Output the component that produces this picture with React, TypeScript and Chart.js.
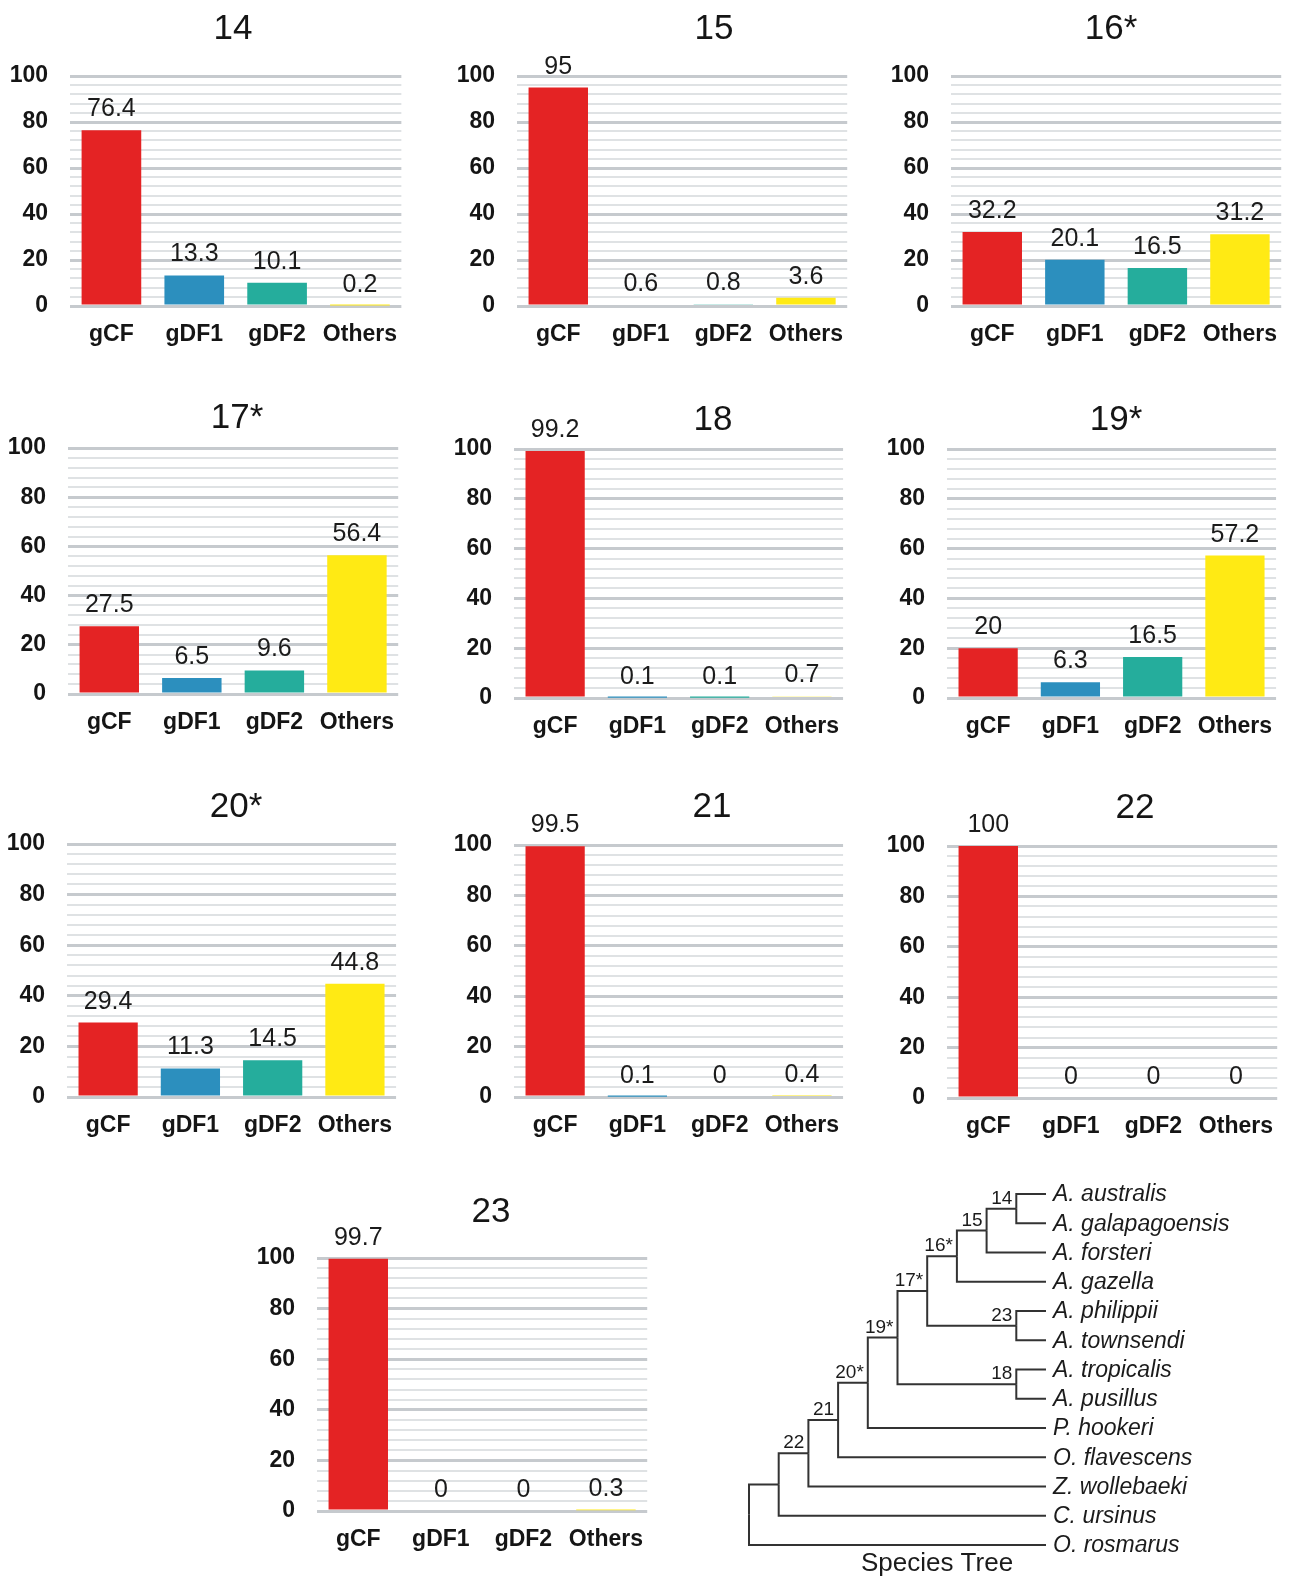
import React, { useEffect, useRef } from 'react';
import { Chart, registerables } from 'chart.js';

Chart.register(...registerables);

// ---------------- data ----------------
const categories = ['gCF', 'gDF1', 'gDF2', 'Others'];
const nodeTitles = ['14', '15', '16*', '17*', '18', '19*', '20*', '21', '22', '23'];
const gCF = [76.4, 95, 32.2, 27.5, 99.2, 20, 29.4, 99.5, 100, 99.7];
const gDF1 = [13.3, 0.6, 20.1, 6.5, 0.1, 6.3, 11.3, 0.1, 0, 0];
const gDF2 = [10.1, 0.8, 16.5, 9.6, 0.1, 16.5, 14.5, 0, 0, 0];
const others = [0.2, 3.6, 31.2, 56.4, 0.7, 57.2, 44.8, 0.4, 0, 0.3];
const yTickLabels = [0, 20, 40, 60, 80, 100];
const yMinorStep = 4;

const leafNames = [
  'A. australis', 'A. galapagoensis', 'A. forsteri', 'A. gazella', 'A. philippii',
  'A. townsendi', 'A. tropicalis', 'A. pusillus', 'P. hookeri', 'O. flavescens',
  'Z. wollebaeki', 'C. ursinus', 'O. rosmarus',
];
const cladeIds = ['n14', 'n15', 'n16', 'n23', 'n17', 'n18', 'n19', 'n20', 'n21', 'n22', 'n11', 'root'];
const cladeLabels = ['14', '15', '16*', '23', '17*', '18', '19*', '20*', '21', '22', '', ''];
const cladeChildA = ['A. australis', 'n14', 'n15', 'A. philippii', 'n16', 'A. tropicalis', 'n17', 'n19', 'n20', 'n21', 'n22', 'n11'];
const cladeChildB = ['A. galapagoensis', 'A. forsteri', 'A. gazella', 'A. townsendi', 'n23', 'A. pusillus', 'n18', 'P. hookeri', 'O. flavescens', 'Z. wollebaeki', 'C. ursinus', 'O. rosmarus'];
const treeCaption = 'Species Tree';

// ---------------- styles / layout ----------------
const FONT = '"Liberation Sans", Arial, Helvetica, sans-serif';
const barColors = ['#E42324', '#2C8FBE', '#25AD9C', '#FFEA14'];
const gridMajor = '#C6CACE';
const gridMinor = '#DFE2E4';
const AXIS_W = 70;
const TOP_PAD = 76;
const RIGHT_PAD = 8;
const XAXIS_H = 50;

const panelLayout = [
  { plotLeft: 70, plotRight: 405, plotTop: 76, plotBottom: 306, titleX: 233, titleY: 39 },
  { plotLeft: 517, plotRight: 851, plotTop: 76, plotBottom: 306, titleX: 714, titleY: 39 },
  { plotLeft: 951, plotRight: 1285, plotTop: 76, plotBottom: 306, titleX: 1111, titleY: 39 },
  { plotLeft: 68, plotRight: 402, plotTop: 448, plotBottom: 694, titleX: 237, titleY: 428 },
  { plotLeft: 514, plotRight: 847, plotTop: 449, plotBottom: 698, titleX: 713, titleY: 430 },
  { plotLeft: 947, plotRight: 1280, plotTop: 449, plotBottom: 698, titleX: 1116, titleY: 430 },
  { plotLeft: 67, plotRight: 400, plotTop: 844, plotBottom: 1097, titleX: 236, titleY: 817 },
  { plotLeft: 514, plotRight: 847, plotTop: 845, plotBottom: 1097, titleX: 712, titleY: 817 },
  { plotLeft: 947, plotRight: 1281, plotTop: 846, plotBottom: 1098, titleX: 1135, titleY: 818 },
  { plotLeft: 317, plotRight: 651, plotTop: 1258, plotBottom: 1511, titleX: 491, titleY: 1222 },
];

const treeBox = { left: 730, top: 1170, width: 561, height: 406, padLeft: 19, padRight: 245, padTop: 24, padBottom: 31 };
const treeCaptionPos = { x: 937, y: 1571 };

const yMax = yTickLabels[yTickLabels.length - 1];
const yMin = yTickLabels[0];

// ---------------- plugins ----------------
const valueLabelPlugin = {
  id: 'valueLabels',
  afterDatasetsDraw(chart: any) {
    const ctx = chart.ctx;
    const meta = chart.getDatasetMeta(0);
    const data = chart.data.datasets[0].data;
    ctx.save();
    ctx.font = `25px ${FONT}`;
    ctx.fillStyle = '#1b1b1b';
    ctx.textAlign = 'center';
    ctx.textBaseline = 'alphabetic';
    meta.data.forEach((bar: any, i: number) => {
      ctx.fillText(String(data[i]), bar.x, bar.y - 14);
    });
    ctx.restore();
  },
};

const panelTitlePlugin = {
  id: 'panelTitle',
  afterDraw(chart: any, _args: any, opts: any) {
    const ctx = chart.ctx;
    ctx.save();
    ctx.font = `35px ${FONT}`;
    ctx.fillStyle = '#151515';
    ctx.textAlign = 'center';
    ctx.textBaseline = 'alphabetic';
    ctx.fillText(opts.text, opts.x, opts.y);
    ctx.restore();
  },
};

function BarPanel({ idx }: { idx: number }) {
  const ref = useRef<HTMLCanvasElement>(null);
  const L = panelLayout[idx];
  const plotW = L.plotRight - L.plotLeft;
  const plotH = L.plotBottom - L.plotTop;
  const width = AXIS_W + plotW + RIGHT_PAD;
  const height = TOP_PAD + plotH + XAXIS_H;
  const left = L.plotLeft - AXIS_W;
  const top = L.plotTop - TOP_PAD;

  useEffect(() => {
    const values = [gCF[idx], gDF1[idx], gDF2[idx], others[idx]];
    const chart = new Chart(ref.current as HTMLCanvasElement, {
      type: 'bar',
      data: {
        labels: categories,
        datasets: [
          {
            data: values,
            backgroundColor: barColors,
            borderWidth: 0,
            barPercentage: 0.72,
            categoryPercentage: 1,
          },
        ],
      },
      plugins: [valueLabelPlugin, panelTitlePlugin],
      options: {
        responsive: false,
        animation: false,
        events: [],
        layout: { padding: { left: 0, right: RIGHT_PAD, top: TOP_PAD, bottom: 0 } },
        plugins: {
          legend: { display: false },
          tooltip: { enabled: false },
          panelTitle: { text: nodeTitles[idx], x: L.titleX - left, y: L.titleY - top },
        } as any,
        scales: {
          x: {
            afterFit: (s: any) => { s.height = XAXIS_H; },
            grid: { display: false, drawTicks: false },
            border: { display: false },
            ticks: {
              padding: 15,
              color: '#151515',
              font: { family: FONT, size: 23, weight: 'bold' },
            },
          },
          y: {
            min: yMin,
            max: yMax,
            afterFit: (s: any) => { s.width = AXIS_W; },
            afterBuildTicks: (s: any) => {
              const t: any[] = [];
              for (let v = yMin; v <= yMax; v += yMinorStep) t.push({ value: v });
              s.ticks = t;
            },
            border: { display: false },
            grid: {
              drawTicks: false,
              color: (c: any) => (yTickLabels.includes(c.tick?.value) ? gridMajor : gridMinor),
              lineWidth: (c: any) => (yTickLabels.includes(c.tick?.value) ? 3 : 2),
            },
            ticks: {
              autoSkip: false,
              padding: 22,
              color: '#151515',
              font: { family: FONT, size: 23, weight: 'bold' },
              callback: (v: any) => (yTickLabels.includes(Number(v)) ? String(v) : ''),
            },
          },
        },
      } as any,
    });
    return () => chart.destroy();
  }, [idx]);

  return (
    <canvas
      ref={ref}
      width={width}
      height={height}
      style={{ position: 'absolute', left, top, width, height }}
    />
  );
}

// ---------------- tree ----------------
function buildTree() {
  const pos: Record<string, { h: number; y: number }> = {};
  leafNames.forEach((n, i) => { pos[n] = { h: 0, y: i }; });
  cladeIds.forEach((id, i) => {
    const a = pos[cladeChildA[i]];
    const b = pos[cladeChildB[i]];
    pos[id] = { h: Math.max(a.h, b.h) + 1, y: (a.y + b.y) / 2 };
  });
  return pos;
}

function TreePanel() {
  const ref = useRef<HTMLCanvasElement>(null);
  useEffect(() => {
    const pos = buildTree();
    const datasets: any[] = [];
    cladeIds.forEach((id, i) => {
      const p = pos[id];
      [cladeChildA[i], cladeChildB[i]].forEach((c) => {
        const q = pos[c];
        datasets.push({
          data: [{ x: p.h, y: p.y }, { x: p.h, y: q.y }, { x: q.h, y: q.y }],
          showLine: true,
          pointRadius: 0,
          borderColor: '#333333',
          borderWidth: 2,
          clip: false,
          tension: 0,
        });
      });
    });
    const maxH = pos['root'].h;
    const labelPlugin = {
      id: 'treeLabels',
      afterDraw(chart: any) {
        const ctx = chart.ctx;
        const xs = chart.scales.x;
        const ys = chart.scales.y;
        ctx.save();
        ctx.fillStyle = '#1b1b1b';
        ctx.font = `italic 23px ${FONT}`;
        ctx.textAlign = 'left';
        ctx.textBaseline = 'middle';
        leafNames.forEach((n) => {
          ctx.fillText(n, chart.chartArea.right + 7, ys.getPixelForValue(pos[n].y) + 1);
        });
        ctx.font = `19px ${FONT}`;
        ctx.textAlign = 'right';
        ctx.textBaseline = 'alphabetic';
        cladeIds.forEach((id, i) => {
          if (!cladeLabels[i]) return;
          const p = pos[id];
          ctx.fillText(cladeLabels[i], xs.getPixelForValue(p.h) - 4, ys.getPixelForValue(p.y) - 5);
        });
        ctx.font = `26px ${FONT}`;
        ctx.textAlign = 'center';
        ctx.fillText(treeCaption, treeCaptionPos.x - treeBox.left, treeCaptionPos.y - treeBox.top);
        ctx.restore();
      },
    };
    const chart = new Chart(ref.current as HTMLCanvasElement, {
      type: 'scatter',
      data: { datasets },
      plugins: [labelPlugin],
      options: {
        responsive: false,
        animation: false,
        events: [],
        layout: {
          padding: { left: treeBox.padLeft, right: treeBox.padRight, top: treeBox.padTop, bottom: treeBox.padBottom },
        },
        plugins: { legend: { display: false }, tooltip: { enabled: false } },
        scales: {
          x: { type: 'linear', display: false, reverse: true, min: 0, max: maxH },
          y: { type: 'linear', display: false, reverse: true, min: 0, max: leafNames.length - 1 },
        },
      } as any,
    });
    return () => chart.destroy();
  }, []);
  return (
    <canvas
      ref={ref}
      width={treeBox.width}
      height={treeBox.height}
      style={{ position: 'absolute', left: treeBox.left, top: treeBox.top, width: treeBox.width, height: treeBox.height }}
    />
  );
}

export default function App() {
  return (
    <div
      style={{
        position: 'absolute',
        left: 0,
        top: 0,
        width: 1291,
        height: 1576,
        overflow: 'hidden',
        background: '#ffffff',
      }}
    >
      {nodeTitles.map((_, i) => (
        <BarPanel key={i} idx={i} />
      ))}
      <TreePanel />
    </div>
  );
}
